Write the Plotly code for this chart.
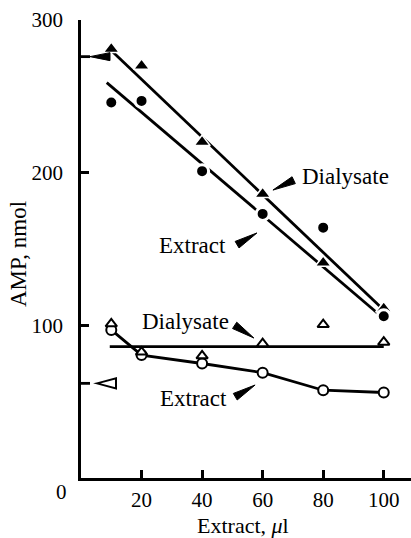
import math
import plotly.graph_objects as go

# ---------------- data ----------------
x_vals = [10, 20, 40, 60, 80, 100]
dialysate_filled = [281, 270, 220, 186, 141, 111]   # filled triangles
extract_filled = [246, 247, 201, 173, 164, 106]     # filled circles
dialysate_open = [101, 82.5, 80, 88, 100.5, 89]     # open triangles
extract_open = [97, 80.5, 75, 69, 57.5, 56]         # open circles

# fitted lines
fit_dial_filled_x = [10, 100]
fit_dial_filled_y = [280, 110]
fit_extr_filled_x = [8.5, 100]
fit_extr_filled_y = [259, 104.5]
fit_dial_open_x = [9.5, 100]
fit_dial_open_y = [86, 86]

# values marked on the y axis
axis_mark_filled = 276
axis_mark_open = 62

x_ticks = [20, 40, 60, 80, 100]
y_ticks = [100, 200, 300]

# labels: (text, x, y) and pointer wedges: (tip_x, tip_y, dir_dx_px, dir_dy_px)
labels = [
    ("Dialysate", 87.2, 197.2),
    ("Extract", 36.8, 152.6),
    ("Dialysate", 34.5, 102.2),
    ("Extract", 37.3, 52.4),
]
pointers = [
    (63.4, 188.6, 21, 10),
    (58.1, 160.5, -22, -13),
    (57.1, 91.7, -17.5, 11.5),
    (57.5, 60.9, -19.5, -11.5),
]

FONT = "Liberation Serif"
LW = 2.8

fig = go.Figure()

line_style = dict(color="black", width=LW)
fig.add_trace(go.Scatter(x=fit_dial_filled_x, y=fit_dial_filled_y, mode="lines", line=line_style, hoverinfo="skip"))
fig.add_trace(go.Scatter(x=fit_extr_filled_x, y=fit_extr_filled_y, mode="lines", line=line_style, hoverinfo="skip"))
fig.add_trace(go.Scatter(x=fit_dial_open_x, y=fit_dial_open_y, mode="lines", line=line_style, hoverinfo="skip"))
fig.add_trace(go.Scatter(x=x_vals, y=extract_open, mode="lines", line=line_style, hoverinfo="skip"))

fig.add_trace(go.Scatter(x=x_vals, y=dialysate_filled, mode="markers",
                         marker=dict(symbol="triangle-up", size=14, color="black",
                                     line=dict(color="white", width=1.6))))
fig.add_trace(go.Scatter(x=x_vals, y=extract_filled, mode="markers",
                         marker=dict(symbol="circle", size=13, color="black",
                                     line=dict(color="white", width=3))))
fig.add_trace(go.Scatter(x=x_vals, y=extract_open, mode="markers",
                         marker=dict(symbol="circle", size=10, color="white",
                                     line=dict(color="black", width=2))))
fig.add_trace(go.Scatter(x=x_vals, y=dialysate_open, mode="markers",
                         marker=dict(symbol="triangle-up", size=10, color="white",
                                     line=dict(color="black", width=2))))


def wedge_path(dx, dy, L=23, w=3.8, off=0.0):
    n = math.hypot(dx, dy)
    ux, uy = dx / n, dy / n
    px, py = -uy, ux
    sx, sy = ux * off, uy * off
    bx, by = ux * (off + L), uy * (off + L)
    return (f"M{sx:.2f},{sy:.2f} L{bx + px * w:.2f},{by + py * w:.2f} "
            f"L{bx - px * w:.2f},{by - py * w:.2f} Z")


shapes = []
for tx, ty, dx, dy in pointers:
    shapes.append(dict(type="path", xref="x", yref="y", xsizemode="pixel", ysizemode="pixel",
                       xanchor=tx, yanchor=ty, path=wedge_path(dx, dy),
                       fillcolor="black", line=dict(color="black", width=1)))

# axis marks
for val in (axis_mark_filled, axis_mark_open):
    shapes.append(dict(type="line", xref="x", yref="y", xsizemode="pixel",
                       xanchor=0, x0=0, x1=9, y0=val, y1=val,
                       line=dict(color="black", width=LW)))
shapes.append(dict(type="path", xref="x", yref="y", xsizemode="pixel", ysizemode="pixel",
                   xanchor=0, yanchor=axis_mark_filled, path=wedge_path(1, 0, L=20, w=4, off=9),
                   fillcolor="black", line=dict(color="black", width=1)))
shapes.append(dict(type="path", xref="x", yref="y", xsizemode="pixel", ysizemode="pixel",
                   xanchor=0, yanchor=axis_mark_open, path=wedge_path(1, 0, L=19, w=5, off=16),
                   fillcolor="white", line=dict(color="black", width=2)))

annotations = []
for text, x, y in labels:
    annotations.append(dict(text=text, x=x, y=y, xref="x", yref="y", showarrow=False,
                            xanchor="center", yanchor="middle",
                            font=dict(family=FONT, size=23, color="black")))
annotations.append(dict(text="0", x=0, y=0, xref="x", yref="y", showarrow=False,
                        xanchor="right", yanchor="middle", xshift=-12, yshift=-14,
                        font=dict(family=FONT, size=21, color="black")))
annotations.append(dict(text="AMP, nmol", x=-0.191, y=0.489, xref="paper", yref="paper",
                        showarrow=False, textangle=-90, xanchor="center", yanchor="middle",
                        font=dict(family=FONT, size=23, color="black")))
annotations.append(dict(text="Extract, <i>\u03bc</i>l", x=0.49, y=-0.104, xref="paper", yref="paper",
                        showarrow=False, xanchor="center", yanchor="middle",
                        font=dict(family=FONT, size=22, color="black")))

axis_common = dict(showline=True, linecolor="black", linewidth=LW, ticks="inside",
                   ticklen=8, tickwidth=LW, tickcolor="black", showgrid=False, zeroline=False,
                   tickfont=dict(family=FONT, size=21, color="black"), mirror=False)

fig.update_layout(
    width=411, height=538,
    margin=dict(l=81, r=0, t=20, b=60),
    paper_bgcolor="white", plot_bgcolor="white",
    showlegend=False,
    xaxis=dict(range=[0, 109], tickvals=x_ticks, ticklabelstandoff=1, **axis_common),
    yaxis=dict(range=[0, 300], tickvals=y_ticks, ticklabelstandoff=11, **axis_common),
    shapes=shapes,
    annotations=annotations,
)

fig.write_html("out.html", config={"displayModeBar": False},
               post_script="document.body.style.margin='0';document.body.style.overflow='hidden';")
